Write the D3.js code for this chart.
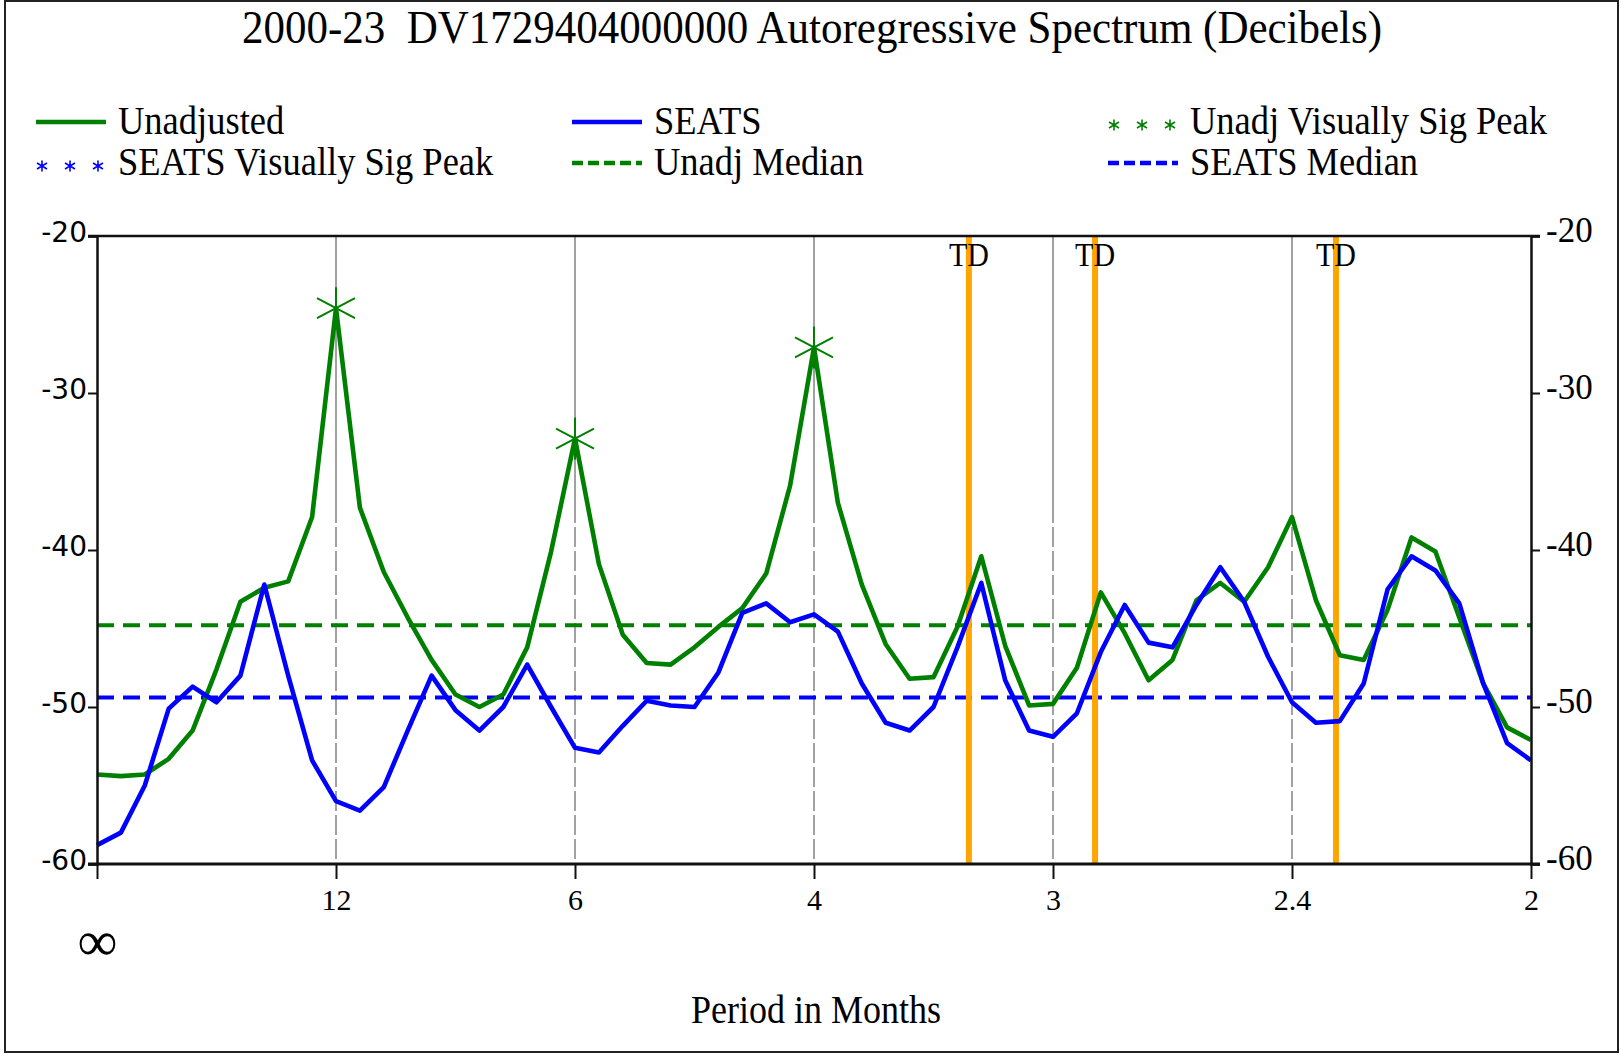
<!DOCTYPE html>
<html><head><meta charset="utf-8">
<script src="https://cdn.jsdelivr.net/npm/d3@7"></script>
<style>body{margin:0;background:#fff} svg{display:block}</style>
</head><body>
<svg id="chart" width="1621" height="1055"></svg>
<script>
// ---------- data ----------
const titleText = "2000-23  DV1729404000000 Autoregressive Spectrum (Decibels)";
const xAxisTitle = "Period in Months";
const nFreq = 61; // spectrum evaluated at k/120 cycles per month, k = 0..60
const unadjusted = [
  -54.3, -54.4, -54.3, -53.3, -51.5, -47.6, -43.3, -42.4, -42.0, -37.9,
  -24.6, -37.3, -41.4, -44.3, -47.0, -49.2, -50.0, -49.2, -46.2, -40.1,
  -32.9, -40.9, -45.4, -47.2, -47.3, -46.2, -44.9, -43.7, -41.5, -35.9,
  -27.1, -37.0, -42.2, -46.0, -48.2, -48.1, -44.9, -40.4, -46.1, -49.9,
  -49.8, -47.5, -42.7, -45.3, -48.3, -47.0, -43.2, -42.1, -43.3, -41.1,
  -37.9, -43.2, -46.7, -47.0, -43.8, -39.2, -40.1, -44.3, -48.5, -51.3,
  -52.1
];
const seats = [
  -58.8, -58.0, -55.0, -50.1, -48.7, -49.7, -48.0, -42.2, -48.0, -53.4,
  -56.0, -56.6, -55.1, -51.5, -48.0, -50.2, -51.5, -50.0, -47.3, -50.0,
  -52.6, -52.9, -51.2, -49.6, -49.9, -50.0, -47.8, -44.0, -43.4, -44.6,
  -44.1, -45.2, -48.5, -51.0, -51.5, -50.0, -46.2, -42.1, -48.3, -51.5,
  -51.9, -50.4, -46.5, -43.5, -45.9, -46.2, -43.5, -41.1, -43.3, -46.8,
  -49.7, -51.0, -50.9, -48.5, -42.5, -40.4, -41.3, -43.4, -48.5, -52.3,
  -53.4
];
const unadjPeakIndex = [10, 20, 30];
const unadjMedian = -44.8;
const seatsMedian = -49.4;
const tdFrequencies = [0.304, 0.348, 0.432];
const tdLabel = "TD";
const periodTicks = [Infinity, 12, 6, 4, 3, 2.4, 2];
const periodTickLabels = ["\u221E", "12", "6", "4", "3", "2.4", "2"];
const gridPeriods = [12, 6, 4, 3, 2.4];
const yTicks = [-60, -50, -40, -30, -20];
const legendLabels = ["Unadjusted", "SEATS", "Unadj Visually Sig Peak",
                      "SEATS Visually Sig Peak", "Unadj Median", "SEATS Median"];

// ---------- setup ----------
const GREEN = "#008000", BLUE = "#0000FF", ORANGE = "#FFA500";
const svg = d3.select("#chart");
const serif = "'Liberation Serif', 'Times New Roman', serif";
const frequencies = d3.range(nFreq).map(k => k / 120);

const x = d3.scaleLinear().domain([0, 0.5]).range([97, 1531]);
const y = d3.scaleLinear().domain([-60, -20]).range([864, 236]);

// outer frame
svg.append("rect").attr("x", 5).attr("y", 1).attr("width", 1613).attr("height", 1051)
  .attr("fill", "#fff").attr("stroke", "#222").attr("stroke-width", 2);

// stretched text helper (reference text is slightly taller than wide)
function stretchedText(g, tx, ty, size, sy, anchor, str) {
  return g.append("text").attr("transform", `translate(${tx},${ty}) scale(1,${sy})`)
    .attr("text-anchor", anchor).style("white-space", "pre")
    .attr("font-family", serif).attr("font-size", size).attr("fill", "#000").text(str);
}

// title
stretchedText(svg, 812, 43, 43, 1.06, "middle", titleText);

// ---------- legend ----------
function asteriskPath(cx, cy, r, a, b) {
  return `M${cx},${cy - r}L${cx},${cy + r}M${cx - a},${cy - b}L${cx + a},${cy + b}M${cx - a},${cy + b}L${cx + a},${cy - b}`;
}
const legendItems = [
  {label: legendLabels[0], color: GREEN, type: "line", col: 0, row: 0},
  {label: legendLabels[1], color: BLUE, type: "line", col: 1, row: 0},
  {label: legendLabels[2], color: GREEN, type: "star", col: 2, row: 0},
  {label: legendLabels[3], color: BLUE, type: "star", col: 0, row: 1},
  {label: legendLabels[4], color: GREEN, type: "dash", col: 1, row: 1},
  {label: legendLabels[5], color: BLUE, type: "dash", col: 2, row: 1}
];
const colX = [36, 572, 1108];
const rowY = [122, 163];
const leg = svg.append("g");
legendItems.forEach(it => {
  const x0 = colX[it.col], yy = rowY[it.row];
  if (it.type === "line") {
    leg.append("line").attr("x1", x0).attr("x2", x0 + 70).attr("y1", yy).attr("y2", yy)
      .attr("stroke", it.color).attr("stroke-width", 4.5);
  } else if (it.type === "dash") {
    leg.append("line").attr("x1", x0).attr("x2", x0 + 70).attr("y1", yy).attr("y2", yy)
      .attr("stroke", it.color).attr("stroke-width", 4.5).attr("stroke-dasharray", "11,5");
  } else {
    [6, 34, 62].forEach(dx => {
      leg.append("path").attr("d", asteriskPath(x0 + dx, yy + 3, 5.5, 5, 3))
        .attr("stroke", it.color).attr("stroke-width", 1.6).attr("fill", "none");
    });
  }
  stretchedText(leg, x0 + 82, yy + 12, 36.5, 1.1, "start", it.label);
});

// ---------- grid lines ----------
const ySplit = y(-37.0);
const grid = svg.append("g");
gridPeriods.forEach(p => {
  const gx = x(1 / p);
  grid.append("line").attr("x1", gx).attr("x2", gx).attr("y1", y(-20)).attr("y2", ySplit)
    .attr("stroke", "#8a8a8a").attr("stroke-width", 1.6);
  grid.append("line").attr("x1", gx).attr("x2", gx).attr("y1", ySplit).attr("y2", y(-60))
    .attr("stroke", "#8a8a8a").attr("stroke-width", 1.6).attr("stroke-dasharray", "20,4");
});

// ---------- median lines ----------
svg.append("line").attr("x1", x(0)).attr("x2", x(0.5)).attr("y1", y(unadjMedian)).attr("y2", y(unadjMedian))
  .attr("stroke", GREEN).attr("stroke-width", 4).attr("stroke-dasharray", "17,9");
svg.append("line").attr("x1", x(0)).attr("x2", x(0.5)).attr("y1", y(seatsMedian)).attr("y2", y(seatsMedian))
  .attr("stroke", BLUE).attr("stroke-width", 4).attr("stroke-dasharray", "17,9");

// ---------- TD lines ----------
tdFrequencies.forEach(f => {
  svg.append("line").attr("x1", x(f)).attr("x2", x(f)).attr("y1", y(-20)).attr("y2", y(-60))
    .attr("stroke", ORANGE).attr("stroke-width", 6);
});

// ---------- series ----------
const line = d3.line().x((d, i) => x(frequencies[i])).y(d => y(d));
svg.append("path").datum(unadjusted).attr("d", line).attr("fill", "none")
  .attr("stroke", GREEN).attr("stroke-width", 4.6).attr("stroke-linejoin", "round");
svg.append("path").datum(seats).attr("d", line).attr("fill", "none")
  .attr("stroke", BLUE).attr("stroke-width", 4.6).attr("stroke-linejoin", "round");

// peak markers
unadjPeakIndex.forEach(i => {
  svg.append("path").attr("d", asteriskPath(x(frequencies[i]), y(unadjusted[i]), 21, 19, 10))
    .attr("stroke", GREEN).attr("stroke-width", 2).attr("fill", "none");
});

// TD labels
tdFrequencies.forEach(f => {
  stretchedText(svg, x(f), 266, 30, 1.1, "middle", tdLabel);
});

// ---------- axes ----------
svg.append("line").attr("x1", x(0) - 9).attr("x2", x(0.5) + 9).attr("y1", y(-20)).attr("y2", y(-20))
  .attr("stroke", "#111").attr("stroke-width", 2.5);
svg.append("line").attr("x1", x(0) - 9).attr("x2", x(0.5) + 9).attr("y1", y(-60)).attr("y2", y(-60))
  .attr("stroke", "#111").attr("stroke-width", 3);

const xAxis = svg.append("g").attr("transform", `translate(0,${y(-60)})`)
  .call(d3.axisBottom(x).tickValues(periodTicks.map(p => 1 / p)).tickSize(15)
    .tickFormat((d, i) => periodTickLabels[i]));
xAxis.select(".domain").remove();
xAxis.selectAll(".tick line").attr("stroke", "#111").attr("stroke-width", 2);
xAxis.selectAll(".tick text").attr("font-family", serif).attr("font-size", 30)
  .attr("fill", "#000").attr("y", 46).attr("dy", 0);
xAxis.selectAll(".tick text").filter((d, i) => i === 0)
  .attr("font-size", 56).attr("y", 96);

const yLeft = svg.append("g").attr("transform", `translate(${x(0)},0)`)
  .call(d3.axisLeft(y).tickValues(yTicks).tickSize(9).tickFormat(d3.format("d")));
yLeft.select(".domain").attr("stroke", "#111").attr("stroke-width", 2.5);
yLeft.selectAll(".tick line").attr("stroke", "#111").attr("stroke-width", 2);
yLeft.selectAll(".tick text").attr("font-family", "'DejaVu Sans', sans-serif").attr("font-size", 28)
  .attr("fill", "#000").attr("x", -10).attr("dy", 0).attr("y", 5).text(d => "-" + Math.abs(d));

const yRight = svg.append("g").attr("transform", `translate(${x(0.5)},0)`)
  .call(d3.axisRight(y).tickValues(yTicks).tickSize(9).tickFormat(d3.format("d")));
yRight.select(".domain").attr("stroke", "#111").attr("stroke-width", 2.5);
yRight.selectAll(".tick line").attr("stroke", "#111").attr("stroke-width", 2);
yRight.selectAll(".tick text").attr("font-family", serif).attr("font-size", 35)
  .attr("fill", "#000").attr("x", 15).attr("dy", 0).attr("y", 5).text(d => "-" + Math.abs(d));

// axis title
stretchedText(svg, 816, 1023, 36, 1.1, "middle", xAxisTitle);
</script>
</body></html>
